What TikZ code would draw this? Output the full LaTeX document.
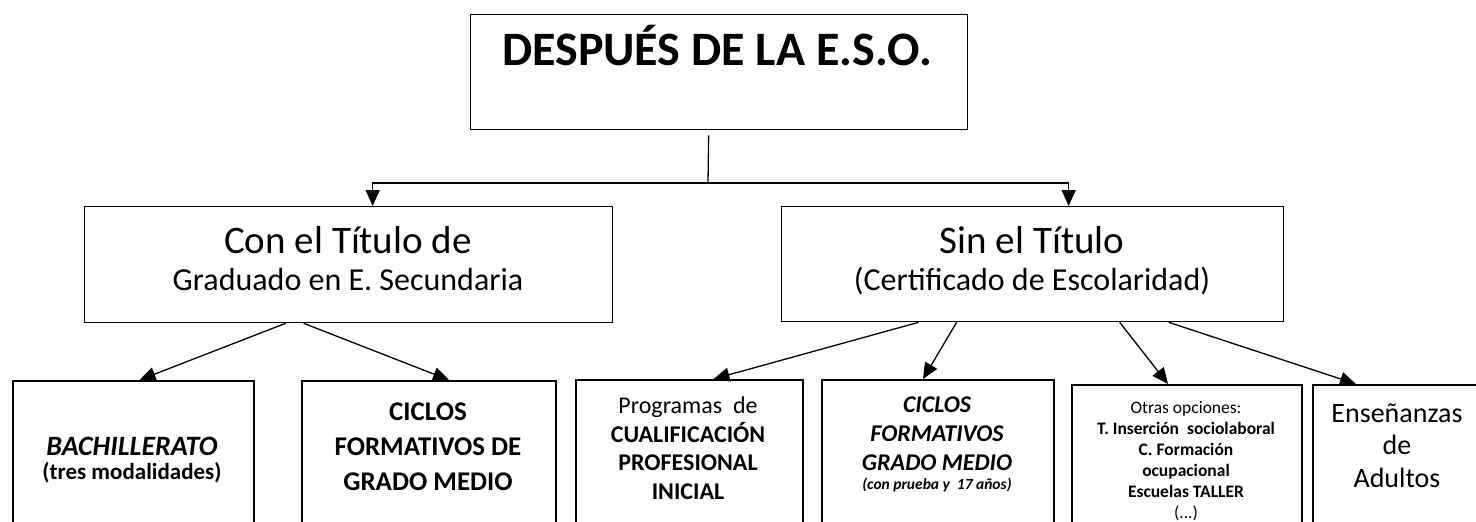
\documentclass[tikz,border=0pt]{standalone}
\usepackage{fontspec}
\setmainfont{Carlito}
\usetikzlibrary{arrows.meta,positioning}

\begin{document}
\begin{tikzpicture}[
    x=1pt, y=-1pt,
    box/.style={draw, line width=1.3pt, anchor=north west, inner sep=0pt},
    lowbox/.style={draw, line width=2pt, anchor=north west, inner sep=0pt, minimum height=170pt},
    txt/.style={anchor=base, align=center, inner sep=0pt},
    link/.style={line width=1.3pt, -{Triangle[length=16pt, width=14pt]}}
]
\useasboundingbox (0,0) rectangle (1476,522);
\clip (0,0) rectangle (1476,522);

% top box
\node[box, minimum width=497pt, minimum height=115pt] (despues) at (470,14) {};
\node[txt, font=\fontsize{48}{56}\selectfont\bfseries] (despuestxt) at (717,65) {DESPUÉS DE LA E.S.O.};

% second level
\node[box, minimum width=528pt, minimum height=116pt] (contitulo) at (84,206) {};
\node[txt, font=\fontsize{32}{37}\selectfont] (contitulotxt) at (348,290)
  {{\fontsize{39}{37}\selectfont Con el Título de}\\Graduado en E. Secundaria};
\node[box, minimum width=502pt, minimum height=115pt] (sintitulo) at (781,206) {};
\node[txt, font=\fontsize{32}{37}\selectfont] (sintitulotxt) at (1032,290)
  {{\fontsize{39}{37}\selectfont Sin el Título}\\(Certificado de Escolaridad)};

% third level
\node[lowbox, minimum width=241pt] (bach) at (12,380) {};
\node[lowbox, minimum width=254pt] (cfgm) at (301,380) {};
\node[lowbox, minimum width=227pt] (pcpi) at (575,379) {};
\node[lowbox, minimum width=232pt] (cfgmp) at (821,379) {};
\node[lowbox, minimum width=230pt] (otras) at (1071,384) {};
\node[lowbox, minimum width=168pt] (adultos) at (1312,384) {};

\node[txt, font=\fontsize{23}{24}\selectfont\bfseries] (bachtxt) at (132,479)
  {{\fontsize{28}{24}\selectfont\itshape BACHILLERATO}\\(tres modalidades)};
\node[txt, font=\fontsize{27}{35}\selectfont\bfseries] (cfgmtxt) at (428,490)
  {CICLOS\\FORMATIVOS DE\\GRADO MEDIO};
\node[txt, font=\fontsize{24}{28.5}\selectfont] (pcpitxt) at (688,499)
  {Programas\ \ de\\\bfseries CUALIFICACIÓN\\\bfseries PROFESIONAL\\\bfseries INICIAL};
\node[txt, font=\fontsize{24}{29}\selectfont\bfseries\itshape] (cfgmptxt) at (937,489)
  {CICLOS\\FORMATIVOS\\GRADO MEDIO\\[-10pt]{\fontsize{15.5}{16}\selectfont (con prueba y\ \ 17 años)}};
\node[txt, font=\fontsize{17.5}{21}\selectfont] (otrastxt) at (1186,518)
  {Otras opciones:\\\bfseries T. Inserción\ \ sociolaboral\\\bfseries C. Formación\\\bfseries ocupacional\\\bfseries Escuelas TALLER\\(...)};
\node[txt, font=\fontsize{28}{32.5}\selectfont] (adultostxt) at (1397,487)
  {Enseñanzas\\de\\Adultos};

% connectors
\coordinate (split) at (708,183);
\draw[line width=1.3pt] ([xshift=-10.5pt, yshift=-5pt]despues.south) -- (split);
\draw[link] (split) -| ([xshift=24pt]contitulo.north);
\draw[link] (split) -| ([xshift=36pt]sintitulo.north);

\draw[link] ([xshift=-63pt]contitulo.south) -- ([xshift=6pt]bach.north);
\draw[link] ([xshift=-45pt]contitulo.south) -- ([xshift=20pt]cfgm.north);

\draw[link] ([xshift=-114pt]sintitulo.south) -- ([xshift=24pt]pcpi.north);
\draw[link] ([xshift=-76pt]sintitulo.south) -- ([xshift=-15pt]cfgmp.north);
\draw[link] ([xshift=87pt]sintitulo.south) -- ([xshift=-19pt]otras.north);
\draw[link] ([xshift=136pt]sintitulo.south) -- ([xshift=-41pt]adultos.north);

\end{tikzpicture}
\end{document}
